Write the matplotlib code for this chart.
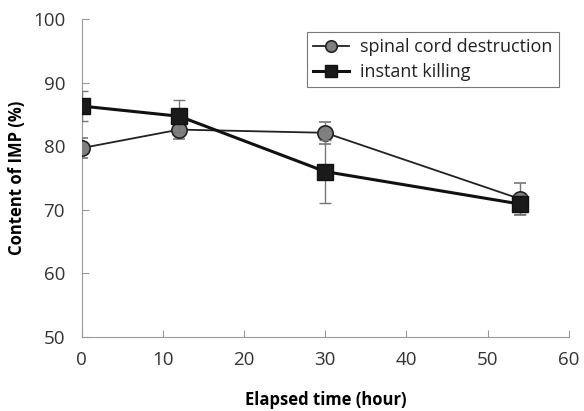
import matplotlib
matplotlib.use("Agg")
import matplotlib.pyplot as plt

plt.rcParams['font.family'] = ['Open Sans', 'DejaVu Sans']

hours = [0, 12, 30, 54]
spinal = [79.7, 82.6, 82.1, 71.7]
spinal_err = [1.6, 1.5, 1.7, 2.5]
instant = [86.3, 84.7, 76.0, 70.9]
instant_err = [2.3, 2.5, 5.0, 1.5]

fig = plt.figure(figsize=(5.84, 4.11), dpi=100)
ax = fig.add_axes([0.140, 0.180, 0.834, 0.774])

e1 = ax.errorbar(hours, spinal, yerr=spinal_err, color='#222222', lw=1.3,
                 marker='o', ms=11, mfc='#808080', mec='#222222', mew=1.2,
                 ecolor='#777777', elinewidth=1, capsize=4, capthick=1,
                 zorder=3)
e2 = ax.errorbar(hours, instant, yerr=instant_err, color='#111111', lw=2.2,
                 marker='s', ms=11, mfc='#1a1a1a', mec='#111111',
                 ecolor='#777777', elinewidth=1, capsize=4, capthick=1,
                 zorder=4)

ax.set_xlim(0, 60)
ax.set_ylim(50, 100)
ax.set_xticks(range(0, 61, 10))
ax.set_yticks(range(50, 101, 10))
for s in ['top', 'right']:
    ax.spines[s].set_visible(False)
for s in ['left', 'bottom']:
    ax.spines[s].set_color('#999999')
ax.tick_params(direction='in', length=5, color='#999999', labelsize=13.5,
               labelcolor='#333333', pad=10)
ax.tick_params(axis='y', pad=12)

ax.set_xlabel('Elapsed time (hour)', fontsize=12, fontweight='bold')
ax.xaxis.set_label_coords(0.5, -0.17)
ax.set_ylabel('Content of IMP (%)', fontsize=12, fontweight='bold')
ax.yaxis.set_label_coords(-0.115, 0.5)

leg = ax.legend([e1[0], e2[0]], ['spinal cord destruction', 'instant killing'],
                loc='upper left', bbox_to_anchor=(0.462, 0.96),
                borderaxespad=0,
                fontsize=13, frameon=True, fancybox=False, markerscale=0.75,
                handlelength=2.0, handletextpad=0.6, borderpad=0.35,
                labelspacing=0.4)
leg.get_frame().set_edgecolor('#555555')
leg.get_frame().set_linewidth(0.8)
for t in leg.get_texts():
    t.set_color('#222222')

fig.savefig('out.png', dpi=100)
